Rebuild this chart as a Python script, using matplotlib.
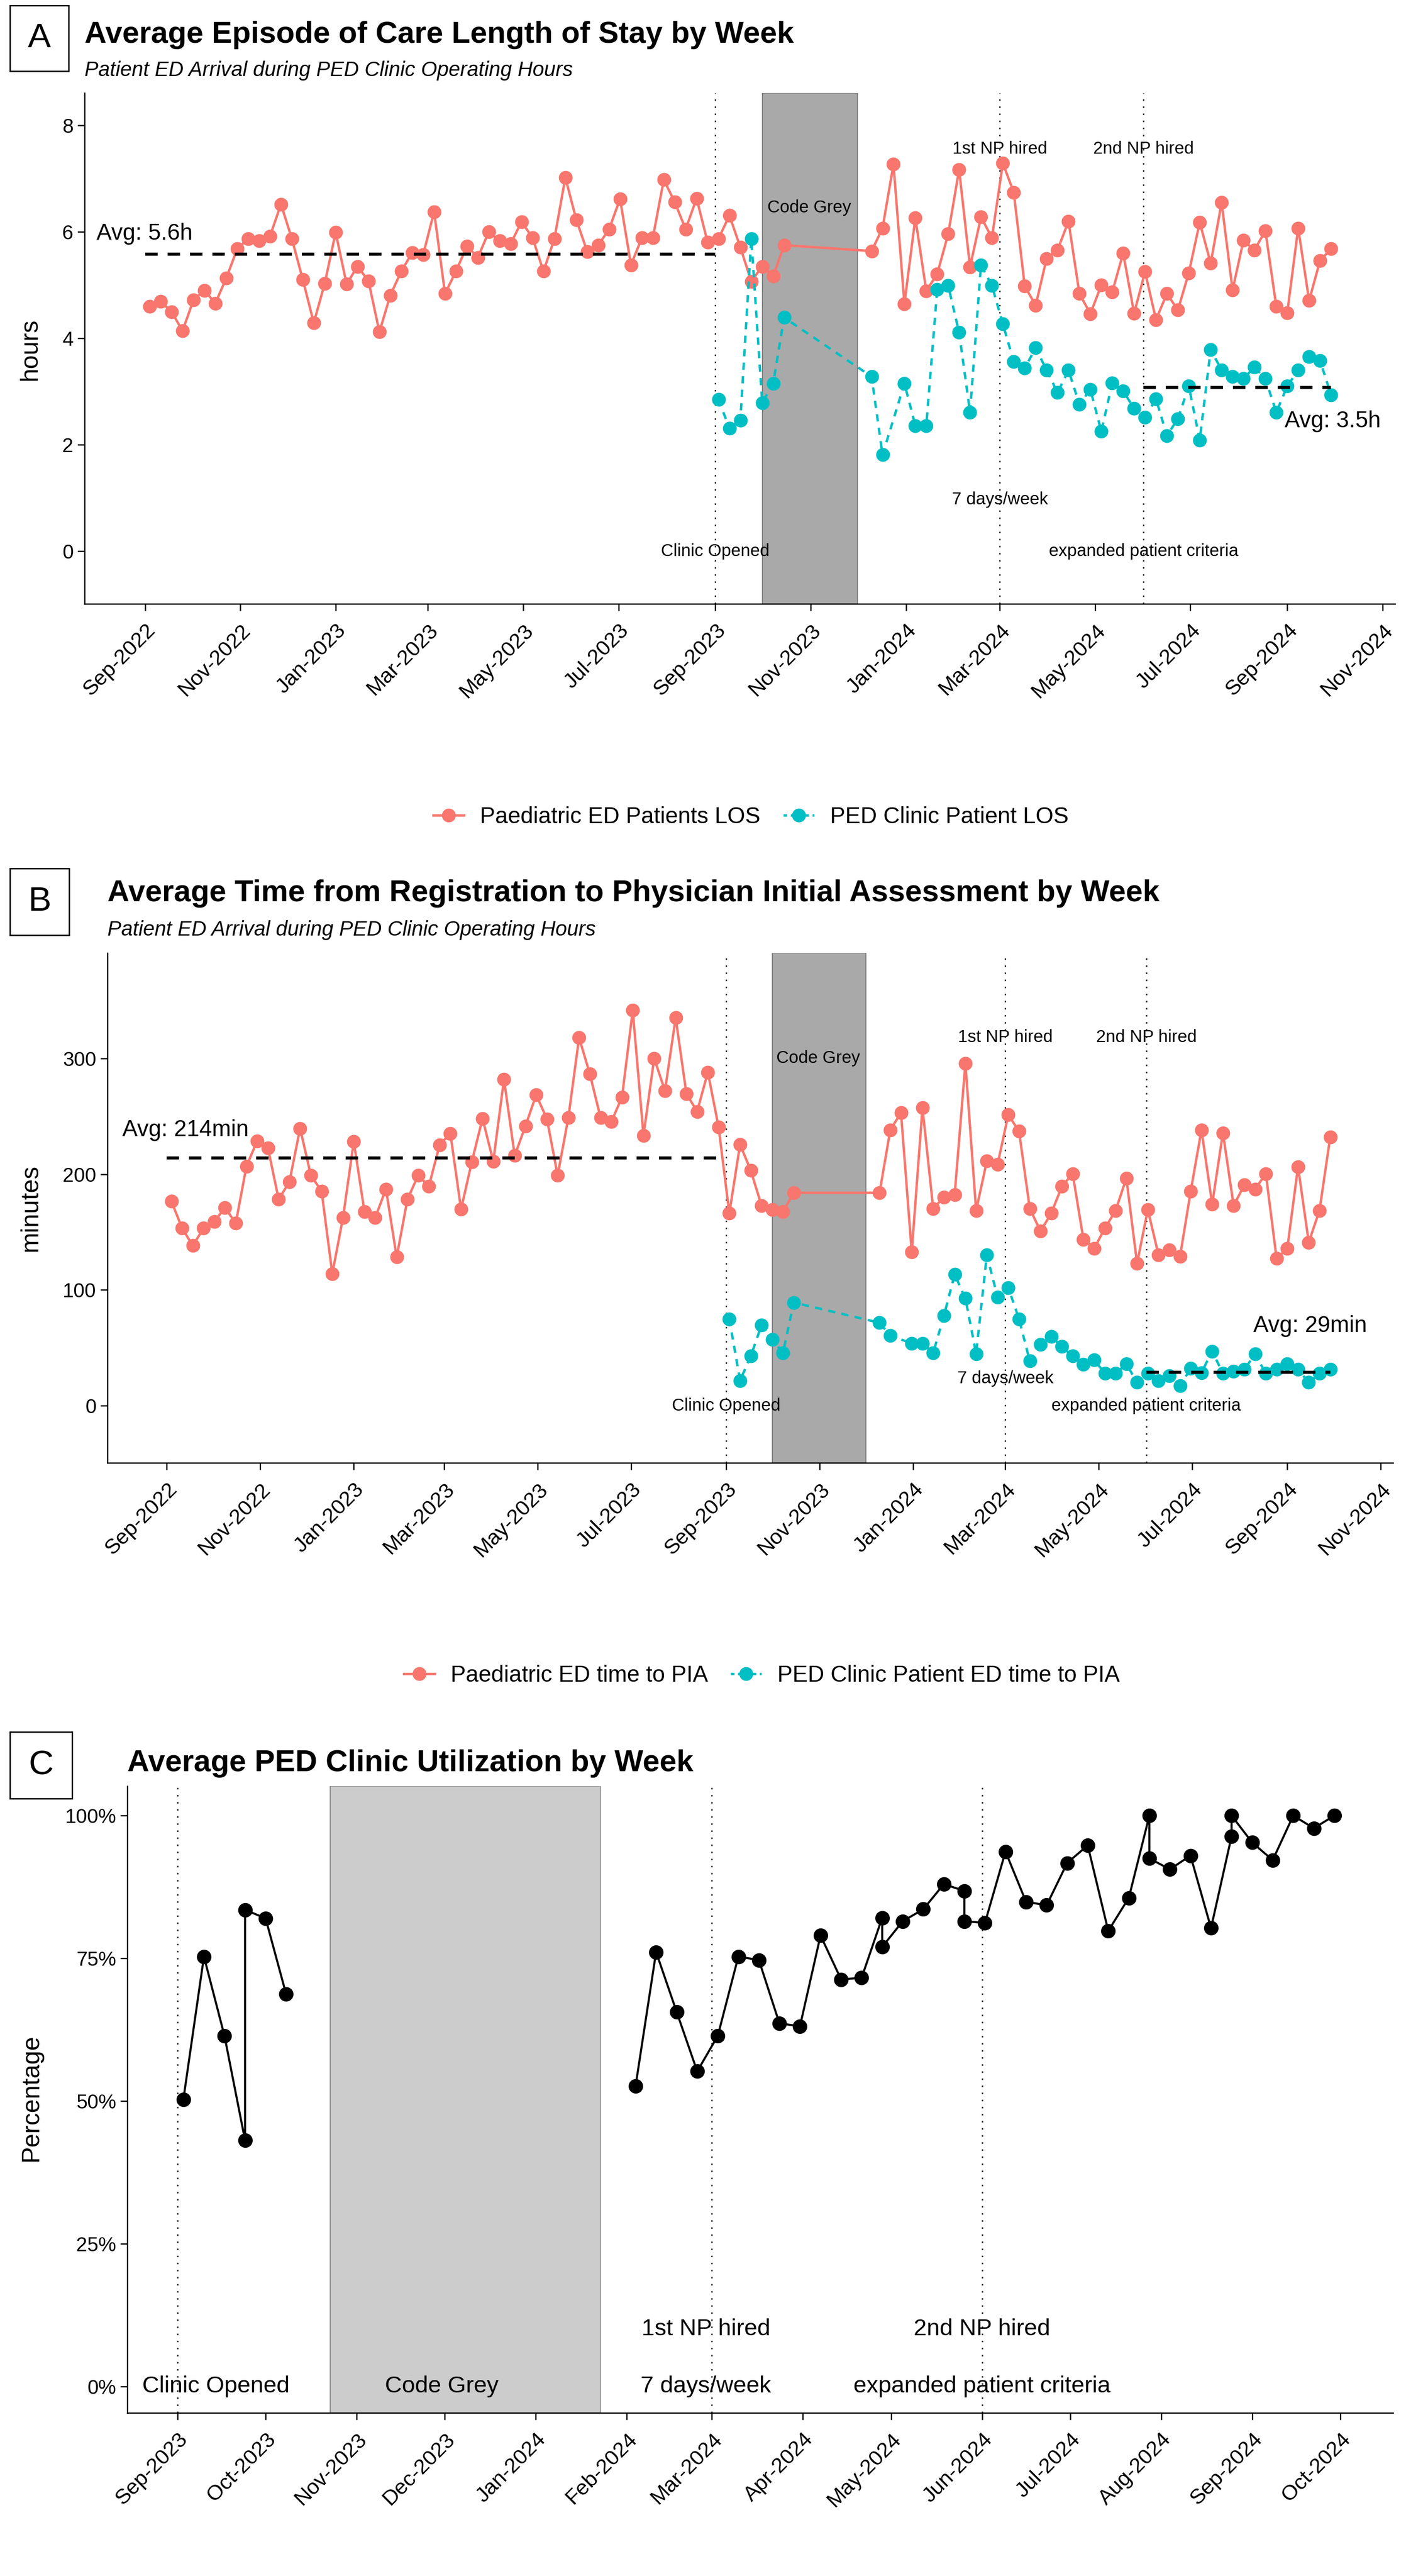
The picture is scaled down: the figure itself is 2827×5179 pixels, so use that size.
import matplotlib
matplotlib.use('Agg')
import matplotlib.pyplot as plt
import matplotlib.dates as mdates
from matplotlib.lines import Line2D
from matplotlib.patches import Rectangle
from matplotlib.ticker import FuncFormatter
import pandas as pd

plt.rcParams['font.family'] = ['Liberation Sans', 'DejaVu Sans']

W, H = 2827, 5179
RED = '#F8766D'
TEAL = '#00BFC4'

# ---- data -------------------------------------------------------------
# weekly points (week starting Sunday)
ed_weeks = list(pd.date_range('2022-09-04', '2023-10-15', freq='7D')) + \
    list(pd.date_range('2023-12-10', '2024-09-29', freq='7D'))
clinic_weeks = list(pd.date_range('2023-09-03', '2023-10-15', freq='7D')) + \
    [pd.Timestamp('2023-12-10'), pd.Timestamp('2023-12-17')] + \
    list(pd.date_range('2023-12-31', '2024-09-29', freq='7D'))

# A: length of stay (hours)
los_ed = [4.60, 4.69, 4.50, 4.14, 4.72, 4.90, 4.66, 5.13, 5.68, 5.87, 5.83, 5.92, 6.52,
          5.87, 5.10, 4.29, 5.03, 5.99, 5.02, 5.35, 5.08, 4.12, 4.81, 5.26, 5.61, 5.57,
          6.38, 4.84, 5.26, 5.73, 5.52, 6.00, 5.83, 5.78, 6.19, 5.89, 5.26, 5.87, 7.02,
          6.23, 5.63, 5.75, 6.05, 6.62, 5.38, 5.89, 5.89, 6.98, 6.56, 6.05, 6.63, 5.81,
          5.87, 6.31, 5.71, 5.07, 5.35, 5.17, 5.75,
          5.64, 6.07, 7.27, 4.65, 6.26, 4.89, 5.21, 5.96, 7.17, 5.34, 6.28, 5.89, 7.29,
          6.74, 4.98, 4.62, 5.50, 5.66, 6.20, 4.84, 4.46, 5.00, 4.87, 5.60, 4.47, 5.25,
          4.35, 4.84, 4.53, 5.23, 6.18, 5.41, 6.55, 4.91, 5.84, 5.66, 6.02, 4.60, 4.48,
          6.07, 4.71, 5.46, 5.68]
los_clinic = [2.85, 2.31, 2.46, 5.87, 2.79, 3.15, 4.39,
              3.28, 1.81,
              3.15, 2.36, 2.36, 4.92, 4.99, 4.11, 2.61, 5.38, 4.99, 4.27, 3.56, 3.44, 3.82,
              3.40, 2.98, 3.40, 2.76, 3.04, 2.25, 3.16, 3.01, 2.68, 2.52, 2.86, 2.17, 2.49,
              3.10, 2.09, 3.79, 3.40, 3.28, 3.24, 3.46, 3.24, 2.61, 3.10, 3.40, 3.66, 3.58,
              2.94]
los_avg_ed = 5.58
los_avg_clinic = 3.08

# B: time to physician initial assessment (minutes)
pia_ed = [176.8, 153.2, 138.3, 153.2, 158.9, 171.1, 157.5, 206.7, 228.8, 222.7, 178.2,
          193.2, 239.5, 198.9, 185.3, 114.0, 162.5, 228.1, 167.5, 162.5, 187.1, 128.3,
          178.2, 198.9, 189.6, 225.2, 235.2, 169.6, 210.6, 248.0, 211.0, 281.9, 216.0,
          241.6, 268.4, 247.7, 198.9, 248.8, 317.9, 286.5, 248.8, 245.2, 266.6, 341.4,
          233.4, 300.1, 271.9, 335.0, 269.4, 254.1, 288.0, 240.6,
          166.1, 225.6, 203.1, 172.8, 169.3, 167.5, 183.9,
          183.9, 238.1, 253.0, 132.6, 257.3, 170.3, 180.0, 182.1, 295.8, 168.6, 211.3,
          208.5, 251.2, 237.0, 170.3, 150.7, 166.1, 189.6, 200.3, 143.6, 135.8, 153.2,
          168.6, 196.4, 122.9, 169.3, 130.1, 134.7, 128.7, 185.3, 238.1, 173.9, 235.6,
          172.8, 190.7, 187.1, 200.3, 127.2, 135.8, 206.3, 141.1, 168.6, 232.0]
pia_clinic = [74.8, 21.7, 42.8, 69.5, 57.0, 45.6, 89.1,
              71.6, 60.6,
              53.8, 53.8, 45.6, 77.7, 113.3, 92.7, 44.9, 130.1, 93.7, 101.9, 74.8, 38.5,
              52.7, 59.9, 51.0, 42.8, 35.6, 39.6, 27.8, 27.8, 36.0, 20.0, 27.8, 21.4, 26.0,
              17.1, 32.1, 28.5, 47.0, 27.8, 29.6, 31.4, 44.5, 27.8, 31.4, 36.0, 31.4, 20.0,
              27.8, 31.4]
pia_avg_ed = 214
pia_avg_clinic = 29

# C: clinic utilization (weeks with two rows are repeated)
util_dates = ['2023-09-03', '2023-09-10', '2023-09-17', '2023-09-24', '2023-09-24',
              '2023-10-01', '2023-10-08',
              '2024-02-04', '2024-02-11', '2024-02-18', '2024-02-25', '2024-03-03',
              '2024-03-10', '2024-03-17', '2024-03-24', '2024-03-31', '2024-04-07',
              '2024-04-14', '2024-04-21', '2024-04-28', '2024-04-28', '2024-05-05',
              '2024-05-12', '2024-05-19', '2024-05-26', '2024-05-26', '2024-06-02',
              '2024-06-09', '2024-06-16', '2024-06-23', '2024-06-30', '2024-07-07',
              '2024-07-14', '2024-07-21', '2024-07-28', '2024-07-28', '2024-08-04',
              '2024-08-11', '2024-08-18', '2024-08-25', '2024-08-25', '2024-09-01',
              '2024-09-08', '2024-09-15', '2024-09-22', '2024-09-29']
util = [0.503, 0.753, 0.614, 0.431, 0.835, 0.820, 0.687,
        0.526, 0.761, 0.656, 0.552, 0.614, 0.753, 0.747, 0.636, 0.631, 0.790,
        0.713, 0.716, 0.821, 0.770, 0.815, 0.836, 0.880, 0.868, 0.815, 0.812,
        0.937, 0.849, 0.843, 0.917, 0.948, 0.798, 0.856, 1.000, 0.925, 0.906,
        0.930, 0.803, 0.964, 1.000, 0.953, 0.922, 1.000, 0.978, 1.000]

clinic_open = pd.Timestamp('2023-09-01')
np1 = pd.Timestamp('2024-03-01')
np2 = pd.Timestamp('2024-06-01')
grey_ab = (pd.Timestamp('2023-10-01'), pd.Timestamp('2023-12-01'))
grey_c = (pd.Timestamp('2023-10-23'), pd.Timestamp('2024-01-23'))

# ---- figure -----------------------------------------------------------
fig = plt.figure(figsize=(W / 100, H / 100), dpi=100)


def px_axes(x0, y0, x1, y1):
    return fig.add_axes([x0 / W, 1 - y1 / H, (x1 - x0) / W, (y1 - y0) / H])


def ftext(x, y, s, **kw):
    fig.text(x / W, 1 - y / H, s, **kw)


def letter_box(x0, y0, x1, y1, s):
    fig.add_artist(Rectangle((x0 / W, 1 - y1 / H), (x1 - x0) / W, (y1 - y0) / H,
                             transform=fig.transFigure, fill=False, lw=2, ec='black'))
    ftext((x0 + x1) / 2, (y0 + y1) / 2, s, ha='center', va='center', fontsize=50)


def style_axes(ax, xfs):
    for s in ['top', 'right']:
        ax.spines[s].set_visible(False)
    for s in ['left', 'bottom']:
        ax.spines[s].set_linewidth(1.8)
    ax.tick_params(axis='both', length=10, width=1.8, colors='black')
    ax.tick_params(axis='y', labelsize=29, pad=6)
    ax.tick_params(axis='x', labelsize=xfs, pad=14)
    for lab in ax.get_xticklabels():
        lab.set_rotation(45)
        lab.set_ha('right')
        lab.set_va('top')
        lab.set_rotation_mode('anchor')


dot = (0, (1.2, 4.5))
avg_dash = (0, (4, 3.2))
clinic_dash = (0, (3, 2.6))
ab_xlim = (mdates.date2num(pd.Timestamp('2022-09-01')) - 38.7,
           mdates.date2num(pd.Timestamp('2022-09-01')) + 800)


def draw_ab(ax, ed, clinic, avg_ed, avg_clinic, ylim, yticks):
    ax.axvspan(grey_ab[0], grey_ab[1], facecolor='#A9A9A9', edgecolor='#7f7f7f', lw=1.5, zorder=0)
    for d in [clinic_open, np1, np2]:
        ax.axvline(d, color='black', lw=1.8, ls=dot, zorder=1)
    ax.plot(ed_weeks, ed, color=RED, lw=3.5, marker='o', ms=19, zorder=3)
    ax.plot(clinic_weeks, clinic, color=TEAL, lw=3.5, ls=clinic_dash, marker='o', ms=19, zorder=3)
    ax.plot([pd.Timestamp('2022-09-01'), clinic_open], [avg_ed, avg_ed],
            color='black', lw=4.5, ls=avg_dash, zorder=4)
    ax.plot([np2, pd.Timestamp('2024-09-29')], [avg_clinic, avg_clinic],
            color='black', lw=4.5, ls=avg_dash, zorder=4)
    ax.set_xlim(ab_xlim)
    ax.set_ylim(ylim)
    ax.set_yticks(yticks)
    ax.xaxis.set_major_locator(mdates.MonthLocator(bymonth=[1, 3, 5, 7, 9, 11]))
    ax.xaxis.set_major_formatter(mdates.DateFormatter('%b-%Y'))
    style_axes(ax, 31)


def legend_ab(labels, cx, cy):
    handles = [Line2D([], [], color=RED, lw=3.5, marker='o', ms=19),
               Line2D([], [], color=TEAL, lw=3.5, ls=(0, (1.5, 1.5)), marker='o', ms=19)]
    fig.legend(handles, labels, loc='center', bbox_to_anchor=(cx / W, 1 - cy / H),
               ncol=2, frameon=False, fontsize=33, handlelength=1.35,
               handletextpad=0.7, columnspacing=1.0)


# ---- panel A ----------------------------------------------------------
axA = px_axes(170, 187, 2805, 1214)
draw_ab(axA, los_ed, los_clinic, los_avg_ed, los_avg_clinic, (-0.99, 8.61), [0, 2, 4, 6, 8])
annA = dict(ha='center', va='center', fontsize=25, zorder=5)
axA.text(pd.Timestamp('2023-10-31'), 6.46, 'Code Grey', **annA)
axA.text(np1, 7.56, '1st NP hired', **annA)
axA.text(np2, 7.56, '2nd NP hired', **annA)
axA.text(np1, 0.97, '7 days/week', **annA)
axA.text(np2, 0.0, 'expanded patient criteria', **annA)
axA.text(clinic_open, 0.0, 'Clinic Opened', **annA)
axA.text(pd.Timestamp('2022-08-01'), 5.96, 'Avg: 5.6h', ha='left', va='center', fontsize=33)
axA.text(pd.Timestamp('2024-09-30'), 2.44, 'Avg: 3.5h', ha='center', va='center', fontsize=33)

letter_box(20, 11, 138, 143, 'A')
ftext(170, 86, 'Average Episode of Care Length of Stay by Week', fontsize=44,
      weight='bold', va='baseline')
ftext(170, 153, 'Patient ED Arrival during PED Clinic Operating Hours', fontsize=30,
      style='italic', va='baseline')
ftext(61, 702, 'hours', rotation=90, ha='center', va='center', fontsize=36)
legend_ab(['Paediatric ED Patients LOS', 'PED Clinic Patient LOS'], 1510, 1643)

# ---- panel B ----------------------------------------------------------
axB = px_axes(216, 1916, 2801, 2941)
draw_ab(axB, pia_ed, pia_clinic, pia_avg_ed, pia_avg_clinic, (-49.4, 391), [0, 100, 200, 300])
axB.text(pd.Timestamp('2023-10-31'), 300, 'Code Grey', **annA)
axB.text(np1, 318, '1st NP hired', **annA)
axB.text(np2, 318, '2nd NP hired', **annA)
axB.text(np1, 23.6, '7 days/week', **annA)
axB.text(np2, 0, 'expanded patient criteria', **annA)
axB.text(clinic_open, 0, 'Clinic Opened', **annA)
axB.text(pd.Timestamp('2022-08-03'), 238, 'Avg: 214min', ha='left', va='center', fontsize=33)
axB.text(pd.Timestamp('2024-09-16'), 68.8, 'Avg: 29min', ha='center', va='center', fontsize=33)

letter_box(20, 1746, 139, 1880, 'B')
ftext(216, 1812, 'Average Time from Registration to Physician Initial Assessment by Week',
      fontsize=44, weight='bold', va='baseline')
ftext(216, 1881, 'Patient ED Arrival during PED Clinic Operating Hours', fontsize=30,
      style='italic', va='baseline')
ftext(62, 2428, 'minutes', rotation=90, ha='center', va='center', fontsize=36)
legend_ab(['Paediatric ED time to PIA', 'PED Clinic Patient ED time to PIA'], 1532, 3369)

# ---- panel C ----------------------------------------------------------
axC = px_axes(256, 3591, 2801, 4851)
axC.axvspan(grey_c[0], grey_c[1], facecolor='#CCCCCC', edgecolor='#8c8c8c', lw=1.5, zorder=0)
for d in [clinic_open, np1, np2]:
    axC.axvline(d, color='black', lw=1.8, ls=dot, zorder=1)
u_dates = pd.to_datetime(util_dates)
# the line breaks across the code grey period
split = 7
axC.plot(u_dates[:split], util[:split], color='black', lw=3, marker='o', ms=20, zorder=3)
axC.plot(u_dates[split:], util[split:], color='black', lw=3, marker='o', ms=20, zorder=3)
annC = dict(ha='center', va='center', fontsize=34, zorder=5)
axC.text(pd.Timestamp('2023-09-14'), 0, 'Clinic Opened', **annC)
axC.text(pd.Timestamp('2023-11-30'), 0, 'Code Grey', **annC)
axC.text(pd.Timestamp('2024-02-28'), 0.1, '1st NP hired', **annC)
axC.text(pd.Timestamp('2024-02-28'), 0, '7 days/week', **annC)
axC.text(np2, 0.1, '2nd NP hired', **annC)
axC.text(np2, 0, 'expanded patient criteria', **annC)
axC.set_xlim(mdates.date2num(clinic_open) - 17.1,
             mdates.date2num(pd.Timestamp('2024-10-01')) + 18)
axC.set_ylim(-0.0465, 1.0517)
axC.set_yticks([0, 0.25, 0.5, 0.75, 1.0])
axC.yaxis.set_major_formatter(FuncFormatter(lambda v, p: '{:.0f}%'.format(v * 100)))
axC.xaxis.set_major_locator(mdates.MonthLocator())
axC.xaxis.set_major_formatter(mdates.DateFormatter('%b-%Y'))
style_axes(axC, 31)

letter_box(20, 3482, 145, 3616, 'C')
ftext(256, 3561, 'Average PED Clinic Utilization by Week', fontsize=44, weight='bold',
      va='baseline')
ftext(63, 4217, 'Percentage', rotation=90, ha='center', va='center', fontsize=36)

fig.savefig('out.png', dpi=100, facecolor='white')
